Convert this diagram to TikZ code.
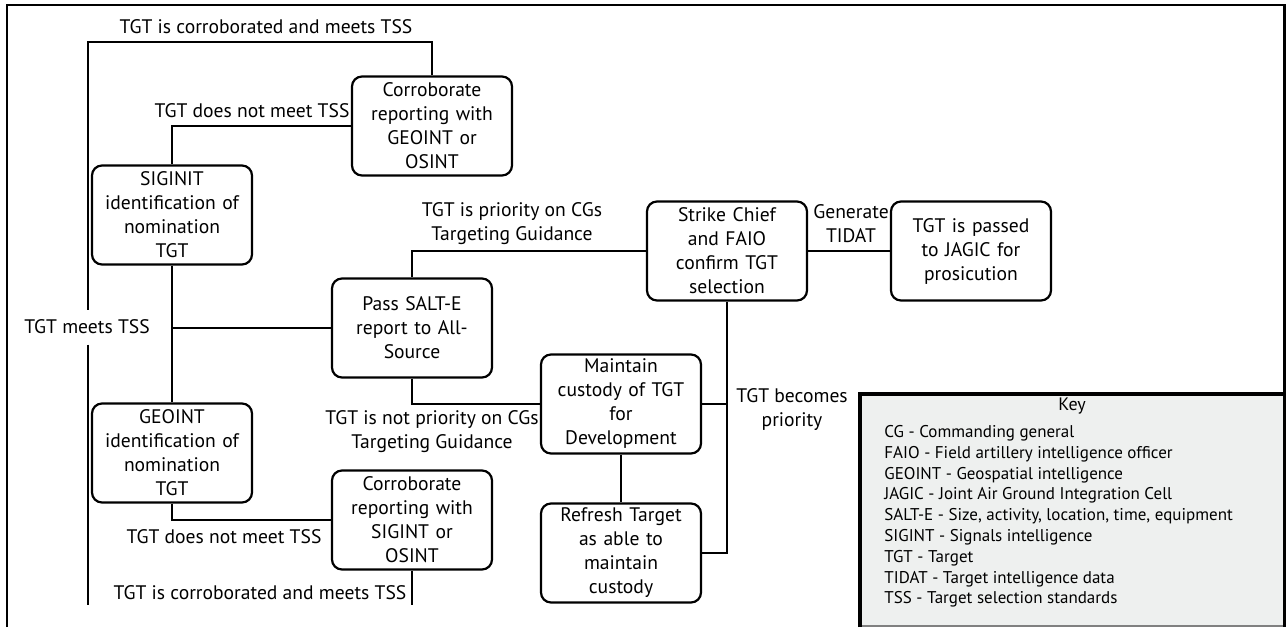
\documentclass[tikz,border=0pt]{standalone}
\usepackage{fontspec}
\setmainfont{PT Sans}
\usetikzlibrary{positioning}

\tikzset{
  stepbox/.style={draw, rounded corners=5pt, line width=1.1pt, minimum width=80pt,
    minimum height=49.5pt, text width=78pt, align=center, inner sep=1pt,
    font=\fontsize{9.8}{12}\selectfont},
  lbl/.style={align=center, inner sep=1pt, font=\fontsize{9.8}{12}\selectfont},
  link/.style={line width=1pt},
}
\definecolor{keygray}{RGB}{238,240,239}

\begin{document}
\begin{tikzpicture}[x=0.5pt,y=-0.5pt]
        \useasboundingbox (0,0) rectangle (1286,627);
        % frame and key
        \draw [line width=1pt] (7,627) -- (7,5) -- (1284,5);
        \fill [keygray] (860,394) rectangle (1284,626);
        \draw [gray, line width=0.6pt] (860,626) -- (1284,626);
        \draw [line width=2pt] (860,627) -- (860,394) -- (1284,394);
        \draw [line width=1.5pt] (1284.5,4) -- (1284.5,627);
        \node (keytitle) [lbl, font=\fontsize{9}{10.4}\selectfont] at (1072,406) {Key};
        \node (keylist) [anchor=north west, align=left, inner sep=0pt,
          font=\fontsize{8.5}{10.4}\selectfont] at (884,425) {CG - Commanding general\\
          FAIO - Field artillery intelligence officer\\
          GEOINT - Geospatial intelligence\\
          JAGIC - Joint Air Ground Integration Cell\\
          SALT-E - Size, activity, location, time, equipment\\
          SIGINT - Signals intelligence\\
          TGT - Target\\
          TIDAT - Target intelligence data\\
          TSS - Target selection standards};
        % boxes
        \node (corrG) [stepbox] at (432,126) {Corroborate\\reporting with\\GEOINT or\\OSINT};
        \node (sigint) [stepbox] at (172,215) {SIGINIT\\identification of\\nomination\\TGT};
        \node (salte) [stepbox] at (412,328) {Pass SALT-E\\report to All-\\Source};
        \node (geoint) [stepbox] at (172,453) {GEOINT\\identification of\\nomination\\TGT};
        \node (corrS) [stepbox] at (412,520) {Corroborate\\reporting with\\SIGINT or\\OSINT};
        \node (strike) [stepbox] at (727,251) {Strike Chief\\and FAIO\\confirm TGT\\selection};
        \node (jagic) [stepbox] at (971,251) {TGT is passed\\to JAGIC for\\prosicution};
        \node (maintain) [stepbox] at (621,404) {Maintain\\custody of TGT\\for\\Development};
        \node (refresh) [stepbox] at (621,553) {Refresh Target\\as able to\\maintain\\custody};
        % labels
        \node (lcorrtop) [lbl] at (266,27) {TGT is corroborated and meets TSS};
        \node (lnottop) [lbl] at (252,111) {TGT does not meet TSS};
        \node (meets) [lbl, inner ysep=5pt] at (87,327) {TGT meets TSS};
        \node (lprio) [lbl] at (512,224) {TGT is priority on CGs\\Targeting Guidance};
        \node (lnotprio) [lbl] at (432,432) {TGT is not priority on CGs\\Targeting Guidance};
        \node (ltidat) [lbl] at (851,224) {Generate\\TIDAT};
        \node (lbecomes) [lbl] at (792,410) {TGT becomes\\priority};
        \node (lnotbot) [lbl] at (224,537) {TGT does not meet TSS};
        \node (lcorrbot) [lbl] at (260,593) {TGT is corroborated and meets TSS};
        % connectors
        \coordinate (topleft) at (88,42);
        \coordinate (botleft) at (88,605);
        \draw [link] (corrG.north) |- (topleft) -- (topleft |- meets.north);
        \draw [link] (meets.south -| topleft) -- (botleft);
        \draw [link] (corrG.west) -| (sigint.north);
        \draw [link] (sigint.south) -- (geoint.north);
        \draw [link] (sigint.south |- salte.west) -- (salte.west);
        \draw [link] (salte.north) |- (strike.west);
        \draw [link] (salte.south) |- (maintain.west);
        \draw [link] (strike.east) -- (jagic.west);
        \draw [link] (strike.south) |- (refresh.east);
        \draw [link] (maintain.east) -- (maintain.east -| strike.south);
        \draw [link] (maintain.south) -- (refresh.north);
        \draw [link] (geoint.south) |- (corrS.west);
        \draw [link] (corrS.south) -- (corrS.south |- botleft);
    \end{tikzpicture}
\end{document}
